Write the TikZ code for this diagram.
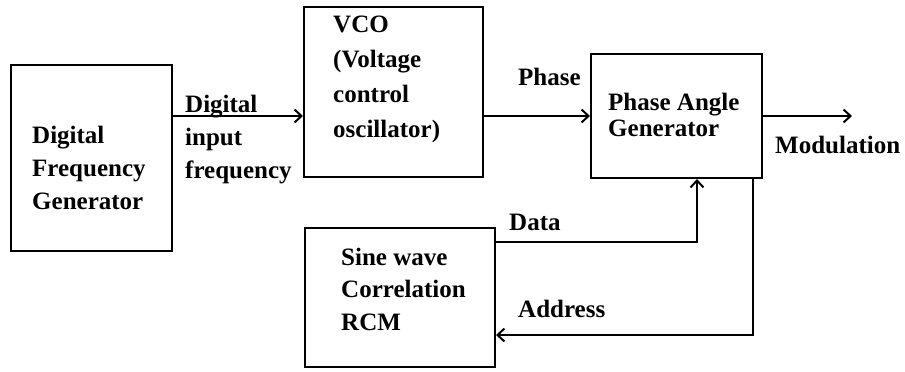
\documentclass[tikz,border=0pt]{standalone}
\usepackage{fontspec}
\setmainfont{Liberation Serif}
\usepackage{tikz}
\usetikzlibrary{arrows.meta,calc}
\tikzset{
  blockbox/.style={draw=black,line width=2pt,inner sep=0pt},
  blocktext/.style={font=\fontsize{25}{#1}\selectfont\bfseries,align=left,
    anchor=base west,inner sep=0pt},
  blocktext/.default=33,
  sigline/.style={line width=2pt,-{Straight Barb[length=7pt,width=13pt]}}
}
\begin{document}
\begin{tikzpicture}[x=1pt,y=-1pt]
  \useasboundingbox (0,0) rectangle (905,372);
  \node[blockbox,minimum width=161pt,minimum height=186pt] (dfg) at (91.5,158) {};
  \node[blockbox,minimum width=179pt,minimum height=170pt] (vco) at (393.5,92) {};
  \node[blockbox,minimum width=171pt,minimum height=124pt] (pag) at (676.5,116) {};
  \node[blockbox,minimum width=190pt,minimum height=139pt] (rcm) at (400,297.5) {};
  \coordinate (modout) at (852,116);
  \node[blocktext] (dfgtext) at (32,209) {Digital\\Frequency\\Generator};
  \node[blocktext=34.7] (vcotext) at (333,137) {VCO\\(Voltage\\control\\oscillator)};
  \node[blocktext=26] (pagtext) at (608,136) {Phase Angle\\Generator};
  \node[blocktext=32.5] (rcmtext) at (341,330) {Sine wave\\Correlation\\RCM};
  \draw[sigline] ([yshift=42pt]dfg.east) -- ([yshift=-24pt]vco.west);
  \draw[sigline] (vco.east |- pag.west) -- (pag.west);
  \draw[sigline] (pag.east) -- (modout);
  \draw[sigline] ([yshift=-15pt]rcm.north east) -| ([xshift=20.5pt]pag.south);
  \draw[sigline] ([xshift=76.5pt]pag.south) |- ([yshift=-37.5pt]rcm.east);
  \node[blocktext] (inlabel) at (185,178) {Digital\\input\\frequency};
  \node[blocktext] (phaselabel) at (518,85) {Phase};
  \node[blocktext] (modlabel) at (775,153) {Modulation};
  \node[blocktext] (datalabel) at (509,230) {Data};
  \node[blocktext] (addrlabel) at (518,317) {Address};
\end{tikzpicture}
\end{document}
